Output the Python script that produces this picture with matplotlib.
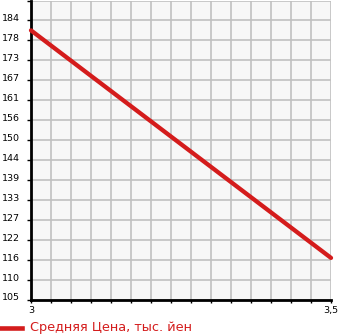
import matplotlib
matplotlib.use("Agg")
import matplotlib.pyplot as plt
import matplotlib.transforms as mtransforms
import numpy as np

x_vals = [3.0, 3.5]
prices = [181.2, 116.9]
ytick_labels = ["105", "110", "116", "122", "127", "133", "139", "144",
                "150", "156", "161", "167", "173", "178", "184"]
xtick_labels = {3.0: "3", 3.5: "3,5"}
legend_label = "Средняя Цена, тыс. йен"

W, H = 345, 335
fig = plt.figure(figsize=(W / 100, H / 100), dpi=100)
ax = fig.add_axes([31 / W, 1 - 300 / H, 300 / W, 299.5 / H])
ax.set_facecolor("#f7f7f7")

ystep = (184 - 105) / 14
yticks = [105 + i * ystep for i in range(15)]
ax.set_ylim(105, 105 + 15 * ystep)
ax.set_xlim(3.0, 3.5)

xticks = np.linspace(3.0, 3.5, 16)
ax.set_xticks(xticks)
ax.set_xticklabels([xtick_labels.get(round(v, 4), "") for v in xticks])
ax.set_yticks(yticks + [105 + 15 * ystep])
ax.set_yticklabels(ytick_labels + [""])

ax.grid(True, color="#c0c0c0", linewidth=1.2)
ax.set_axisbelow(True)

for s in ["top", "right"]:
    ax.spines[s].set_visible(False)
for s in ["left", "bottom"]:
    ax.spines[s].set_color("black")
    ax.spines[s].set_linewidth(2)

ax.tick_params(axis="y", length=3, width=1, pad=5, labelsize=6.8, colors="black")
ax.tick_params(axis="x", length=2.5, width=1, pad=2, labelsize=6.8, colors="black")

offset = mtransforms.ScaledTranslation(0, 3 / 100, fig.dpi_scale_trans)
for lab in ax.get_yticklabels():
    lab.set_transform(lab.get_transform() + offset)

ax.plot(x_vals, prices, color="#d41c1c", linewidth=3.1, solid_capstyle="round",
        clip_on=False, zorder=5)

fig.lines.append(plt.Line2D([0 / W, 22 / W], [1 - 328 / H, 1 - 328 / H],
                            color="#d41c1c", linewidth=3.3, transform=fig.transFigure))
fig.text(30 / W, 1 - 328 / H, legend_label, color="#d41c1c", fontsize=9.3,
         va="center", ha="left")

fig.savefig("out.png", dpi=100)
